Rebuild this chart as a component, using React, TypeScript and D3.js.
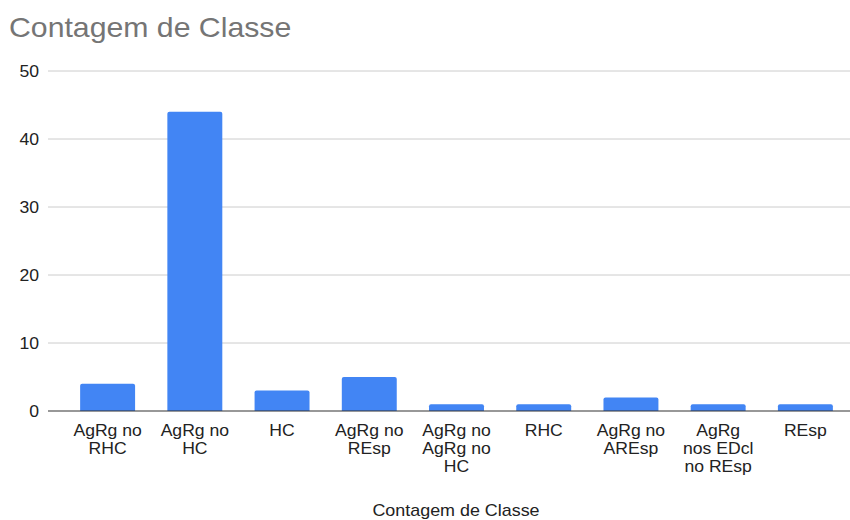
import React, { useMemo } from "react";
import * as d3 from "d3";

const categories = [
  "AgRg no RHC",
  "AgRg no HC",
  "HC",
  "AgRg no REsp",
  "AgRg no AgRg no HC",
  "RHC",
  "AgRg no AREsp",
  "AgRg nos EDcl no REsp",
  "REsp",
];
const counts = [4, 44, 3, 5, 1, 1, 2, 1, 1];
const yTicks = [0, 10, 20, 30, 40, 50];
const chartTitle = "Contagem de Classe";
const xTitle = "Contagem de Classe";

const W = 850;
const H = 520;
const FONT = "'Liberation Sans', Arial, sans-serif";
const SX = 1.1;

function wrap(text: string, maxW: number, font: string): string[] {
  const canvas = document.createElement("canvas");
  const ctx = canvas.getContext("2d")!;
  ctx.font = font;
  const words = text.split(" ");
  const lines: string[] = [];
  let cur = "";
  for (const w of words) {
    const t = cur ? cur + " " + w : w;
    if (ctx.measureText(t).width > maxW && cur) {
      lines.push(cur);
      cur = w;
    } else cur = t;
  }
  if (cur) lines.push(cur);
  return lines;
}

function topRounded(x: number, y: number, w: number, h: number, r: number) {
  const rr = Math.min(r, h, w / 2);
  return `M${x},${y + h}V${y + rr}Q${x},${y} ${x + rr},${y}H${x + w - rr}Q${x + w},${y} ${x + w},${y + rr}V${y + h}Z`;
}

function SText({ x, y, sx, children, ...rest }: any) {
  return (
    <g transform={`translate(${x},${y}) scale(${sx},1)`}>
      <text x={0} y={0} {...rest}>
        {children}
      </text>
    </g>
  );
}

export default function App() {
  const x = d3.scaleBand<string>().domain(categories).range([64, 849]).paddingInner(0.37).paddingOuter(0.185);
  const y = d3.scaleLinear().domain([0, 50]).range([411, 71]);
  const labelLines = useMemo(
    () => categories.map((c) => wrap(c, 68, `16px ${FONT}`)),
    []
  );

  return (
    <svg
      width={W}
      height={H}
      style={{ position: "absolute", left: 0, top: 0, background: "#fff" }}
      fontFamily={FONT}
    >
      <SText x={9} y={37} sx={1.08} fontSize={28} fill="#757575">
        {chartTitle}
      </SText>
      {yTicks.map((t) => (
        <g key={t}>
          {t !== 0 && (
            <line x1={48} x2={850} y1={y(t)} y2={y(t)} stroke="#cccccc" strokeWidth={1} />
          )}
          <SText x={39} y={y(t) + 5.5} sx={SX} textAnchor="end" fontSize={16} fill="#222">
            {t}
          </SText>
        </g>
      ))}
      {categories.map((c, i) => {
        const bx = x(c)!;
        const by = y(counts[i]);
        return (
          <path
            key={c}
            d={topRounded(bx, by, x.bandwidth(), y(0) - by, 2)}
            fill="#4285f4"
          />
        );
      })}
      <line x1={48} x2={850} y1={y(0)} y2={y(0)} stroke="#333333" strokeWidth={1.2} />
      {categories.map((c, i) =>
        labelLines[i].map((l, j) => (
          <SText
            key={c + j}
            x={x(c)! + x.bandwidth() / 2}
            y={436 + j * 18}
            sx={SX}
            textAnchor="middle"
            fontSize={16}
            fill="#222"
          >
            {l}
          </SText>
        ))
      )}
      <SText x={456} y={516} sx={1.12} textAnchor="middle" fontSize={16} fill="#222">
        {xTitle}
      </SText>
    </svg>
  );
}
